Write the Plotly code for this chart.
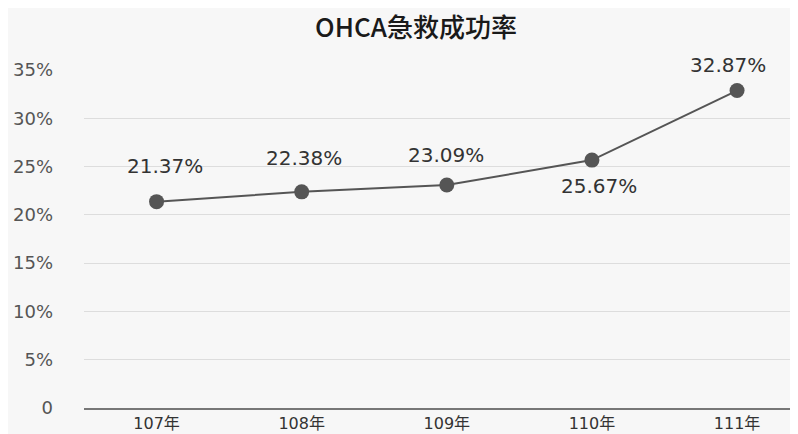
import plotly.graph_objects as go

years = ["107年", "108年", "109年", "110年", "111年"]
rates = [21.37, 22.38, 23.09, 25.67, 32.87]
y_tick_vals = [0, 5, 10, 15, 20, 25, 30, 35]
y_tick_text = ["0", "5%", "10%", "15%", "20%", "25%", "30%", "35%"]

# label offsets (style only)
label_dx = [8, 2, -1, 7, -9]
label_dy = [36, 34, 30, -26, 26]

LAT = "DejaVu Sans, Noto Sans CJK TC, sans-serif"
CJK = "Noto Sans CJK TC, DejaVu Sans, sans-serif"

# page body has an 8px default margin; compensate
W, H = 790, 426

fig = go.Figure()
fig.add_trace(go.Scatter(
    x=years, y=rates, mode="lines+markers",
    line=dict(color="#555555", width=2),
    marker=dict(color="#555555", size=15),
    cliponaxis=False, hoverinfo="skip",
))

for i, (cat, v) in enumerate(zip(years, rates)):
    fig.add_annotation(
        x=cat, y=v, text=f"{v:.2f}%", showarrow=False,
        xshift=label_dx[i], yshift=label_dy[i],
        font=dict(family=LAT, size=20, color="#333333"),
    )

fig.update_layout(
    width=W, height=H,
    paper_bgcolor="#f7f7f7", plot_bgcolor="#f7f7f7",
    margin=dict(l=76, r=0, t=62, b=26, autoexpand=False),
    showlegend=False,
    title=dict(text="OHCA急救成功率", x=408/W, xanchor="center", y=1-20/H, yanchor="middle",
               font=dict(family=CJK, size=26, color="#1a1a1a", weight=500)),
    xaxis=dict(
        type="category", range=[-0.5, 4.42],
        showgrid=False, showline=True, linecolor="#777777", linewidth=2,
        ticks="", tickfont=dict(family=LAT, size=16, color="#333333"),
        ticklabelstandoff=0,
    ),
    yaxis=dict(
        range=[0, 35], tickvals=y_tick_vals, ticktext=y_tick_text,
        showgrid=True, gridcolor="#dddddd", gridwidth=1,
        zeroline=False, showline=False, ticks="",
        tickfont=dict(family=LAT, size=18, color="#555555"),
        ticklabelstandoff=30,
    ),
)

fig.write_html("out.html")
